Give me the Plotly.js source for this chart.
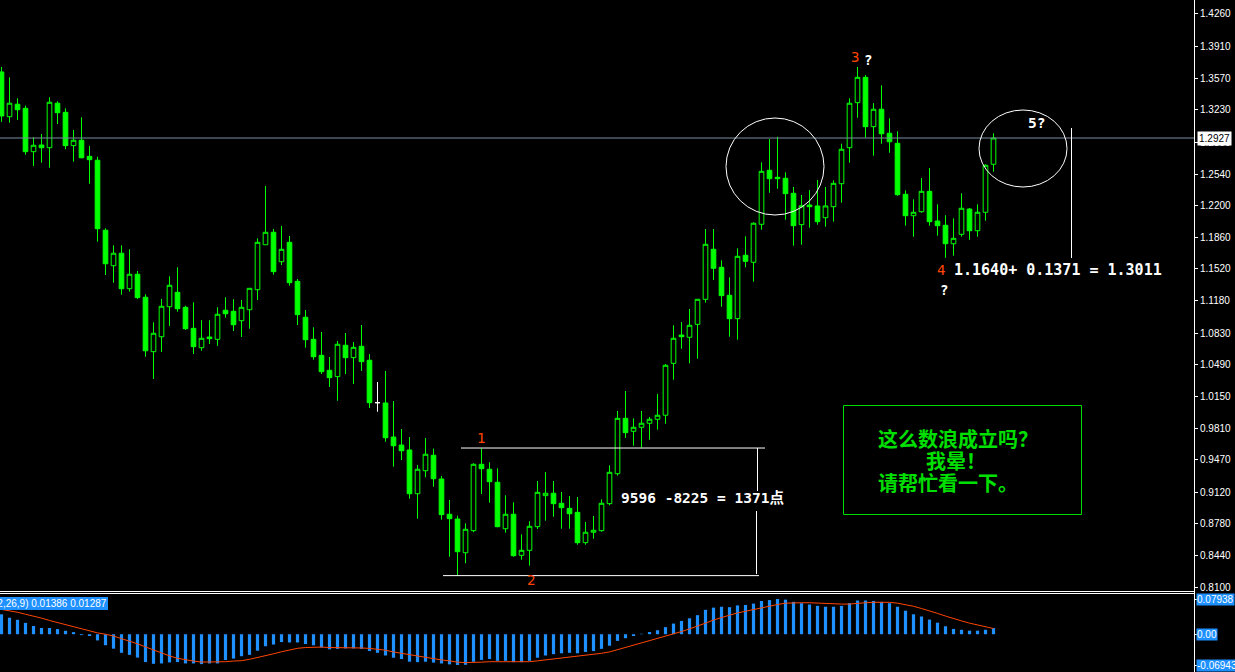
<!DOCTYPE html>
<html><head><meta charset="utf-8">
<script src="https://cdn.plot.ly/plotly-3.0.1.min.js"></script>
<style>html,body{margin:0;padding:0;background:#000;overflow:hidden}#chart{width:1235px;height:672px}</style>
</head><body><div id="chart"></div>
<script>
// ---- candle data (one bar per period, left to right) ----
const opens = [1.3637,1.3156,1.3290,1.3246,1.2780,1.2852,1.2823,1.3301,1.3203,1.2845,1.2903,1.2730,1.2688,1.1936,1.1555,1.1689,1.1308,1.1463,1.1216,1.0631,1.0792,1.1114,1.1269,1.1108,1.0882,1.0674,1.0789,1.0764,1.1076,1.1065,1.0964,1.1082,1.1297,1.1780,1.1914,1.1598,1.1806,1.1387,1.1001,1.0764,1.0592,1.0431,1.0363,1.0700,1.0567,1.0689,1.0539,1.0083,1.0080,0.9714,0.9628,0.9575,0.9105,0.9352,0.9518,0.9263,0.8884,0.8833,0.8471,0.8708,0.9421,0.9368,0.9228,0.8729,0.8884,0.8443,0.8497,0.8751,0.9084,0.9110,0.9002,0.8948,0.8905,0.8579,0.8691,0.8708,0.8998,0.9320,0.9915,0.9776,0.9819,0.9862,0.9905,0.9948,1.0506,1.0810,1.0786,1.0925,1.1194,1.1731,1.1538,1.1237,1.0986,1.1667,1.1592,1.2000,1.2580,1.2505,1.2494,1.2333,1.1996,1.2207,1.2197,1.2071,1.2189,1.2436,1.2823,1.3307,1.3579,1.3049,1.3236,1.2978,1.2870,1.2322,1.2092,1.2135,1.2354,1.2035,1.1989,1.1791,1.1892,1.2164,1.1931,1.2129,1.2645];
const highs = [1.3690,1.3579,1.3354,1.3275,1.2935,1.2970,1.3365,1.3322,1.3246,1.3013,1.3150,1.2842,1.2726,1.1957,1.1774,1.1774,1.1731,1.1498,1.1248,1.0947,1.1198,1.1441,1.1538,1.1125,1.1162,1.0969,1.0969,1.1108,1.1216,1.1195,1.1187,1.1312,1.1849,1.2411,1.1950,1.1982,1.1874,1.1412,1.1079,1.0893,1.0843,1.0574,1.0746,1.0832,1.0735,1.0918,1.0606,1.0305,1.0424,1.0101,0.9800,0.9714,0.9414,0.9704,0.9590,0.9295,0.9038,0.8869,0.8787,0.9432,0.9596,0.9443,0.9378,0.9088,0.9013,0.8669,0.8809,0.9242,0.9338,0.9242,0.9124,0.9081,0.9070,0.8801,0.8866,0.9045,0.9410,0.9994,1.0209,0.9915,0.9994,0.9929,1.0177,1.0499,1.0915,1.0950,1.1090,1.1194,1.1949,1.1949,1.1613,1.1430,1.1742,1.1871,1.2021,1.2666,1.2916,1.2941,1.2559,1.2401,1.2315,1.2368,1.2476,1.2401,1.2473,1.2866,1.3354,1.3690,1.3604,1.3301,1.3493,1.3139,1.2999,1.2365,1.2268,1.2497,1.2605,1.2215,1.2097,1.2064,1.2333,1.2175,1.2215,1.2645,1.2978];
const lows = [1.3100,1.3092,1.3121,1.2747,1.2627,1.2662,1.2608,1.3078,1.2806,1.2673,1.2710,1.2436,1.1813,1.1455,1.1372,1.1243,1.1276,1.1198,1.0577,1.0338,1.0628,1.0908,1.1061,1.0864,1.0606,1.0641,1.0714,1.0693,1.0997,1.0853,1.0789,1.0878,1.1187,1.1780,1.1458,1.1562,1.1340,1.0918,1.0674,1.0545,1.0391,1.0252,1.0104,1.0391,1.0284,1.0424,1.0026,0.9986,0.9664,0.9396,0.9467,0.9052,0.8837,0.9281,0.9180,0.8826,0.8428,0.8225,0.8358,0.8691,0.9102,0.9009,0.8744,0.8686,0.8428,0.8396,0.8332,0.8726,0.8815,0.8858,0.8729,0.8729,0.8557,0.8557,0.8622,0.8697,0.8981,0.9299,0.9704,0.9621,0.9593,0.9685,0.9793,0.9857,1.0330,1.0663,1.0506,1.0556,1.1158,1.1401,1.1114,1.0792,1.0760,1.1538,1.1383,1.1942,1.2339,1.2382,1.2049,1.1770,1.1781,1.1963,1.1996,1.1974,1.2028,1.2232,1.2662,1.3145,1.2930,1.2737,1.2866,1.2769,1.2307,1.1985,1.1867,1.2125,1.1985,1.1877,1.1640,1.1663,1.1867,1.1834,1.1867,1.2039,1.2565];
const closes = [1.3164,1.3301,1.3231,1.2780,1.2849,1.2823,1.3311,1.3199,1.2845,1.2903,1.2715,1.2694,1.1953,1.1576,1.1689,1.1308,1.1463,1.1212,1.0641,1.0829,1.1119,1.1345,1.1093,1.0878,1.0685,1.0775,1.0771,1.1033,1.1039,1.0921,1.1108,1.1312,1.1806,1.1914,1.1491,1.1731,1.1372,1.1029,1.0760,1.0577,1.0416,1.0352,1.0711,1.0567,1.0678,1.0524,1.0083,1.0083,0.9707,0.9621,0.9567,0.9105,0.9368,0.9529,0.9266,0.8880,0.8837,0.8482,0.8723,0.9421,0.9374,0.9234,0.8751,0.8884,0.8439,0.8497,0.8755,0.9120,0.9110,0.8998,0.8955,0.8890,0.8579,0.8691,0.8712,0.9002,0.9335,0.9915,0.9761,0.9819,0.9862,0.9905,0.9948,1.0485,1.0775,1.0792,1.0915,1.1194,1.1785,1.1527,1.1233,1.0986,1.1656,1.1602,1.2011,1.2569,1.2490,1.2490,1.2329,1.1985,1.2200,1.2189,1.2028,1.2197,1.2440,1.2806,1.3301,1.3579,1.3049,1.3236,1.2973,1.2887,1.2318,1.2092,1.2129,1.2354,1.2028,1.1985,1.1791,1.1849,1.2172,1.1931,1.2129,1.2634,1.2927];

// ---- MACD(12,26,9) panel ----
const macdMain = [0.0449,0.0372,0.0326,0.0256,0.0186,0.0140,0.0140,0.0116,0.0078,0.0047,-0.0020,-0.0040,-0.0140,-0.0248,-0.0326,-0.0419,-0.0465,-0.0527,-0.0628,-0.0667,-0.0659,-0.0636,-0.0628,-0.0659,-0.0659,-0.0674,-0.0659,-0.0659,-0.0581,-0.0550,-0.0496,-0.0465,-0.0372,-0.0271,-0.0233,-0.0178,-0.0186,-0.0186,
 -0.022,-0.025,-0.030,-0.034,-0.033,-0.032,-0.032,-0.033,-0.038,-0.042,-0.048,-0.053,-0.056,-0.062,-0.063,-0.062,-0.064,-0.066,-0.068,-0.0694,-0.069,-0.062,-0.058,-0.056,-0.060,-0.060,-0.063,-0.063,-0.060,-0.053,-0.048,-0.045,-0.043,-0.042,-0.043,-0.040,-0.038,-0.033,-0.026,-0.015,-0.009,-0.004,0.001,0.005,0.009,0.016,0.024,0.030,0.036,0.043,0.055,0.060,0.062,0.061,0.065,0.066,0.069,0.075,0.077,0.0794,0.078,0.073,0.070,0.067,0.064,0.062,0.062,0.064,0.070,0.076,0.076,0.075,0.073,0.070,0.062,0.053,0.045,0.040,0.033,0.026,0.018,0.012,0.010,0.008,0.008,0.010,0.01386];
const macdSignal = [0.0558,0.0535,0.0496,0.0450,0.0410,0.0364,0.0310,0.0264,0.0209,0.0163,0.0116,0.0070,0.0030,0.0000,-0.0040,-0.0100,-0.0155,-0.0217,-0.0287,-0.0357,-0.0434,-0.0488,-0.0543,-0.0581,-0.0605,-0.0628,-0.0628,-0.0628,-0.0620,-0.0605,-0.0597,-0.0566,-0.0527,-0.0496,-0.0442,-0.0395,-0.0349,-0.0318,
 -0.030,-0.029,-0.029,-0.030,-0.030,-0.031,-0.031,-0.031,-0.032,-0.034,-0.036,-0.040,-0.043,-0.047,-0.050,-0.053,-0.055,-0.058,-0.060,-0.063,-0.064,-0.064,-0.063,-0.062,-0.062,-0.061,-0.062,-0.062,-0.062,-0.060,-0.058,-0.056,-0.053,-0.051,-0.050,-0.048,-0.046,-0.043,-0.040,-0.035,-0.030,-0.025,-0.020,-0.015,-0.010,-0.005,0.000,0.006,0.012,0.018,0.025,0.032,0.038,0.043,0.048,0.052,0.056,0.060,0.064,0.067,0.070,0.071,0.071,0.071,0.070,0.069,0.068,0.068,0.068,0.070,0.071,0.072,0.072,0.072,0.070,0.067,0.063,0.058,0.053,0.047,0.041,0.035,0.030,0.025,0.021,0.017,0.01287];
const macdLabel = 'MACD(12,26,9) 0.01386 0.01287';
const macdMaxLabel = '0.07938', macdZeroLabel = '0.00', macdMinLabel = '-0.06943';
const macdMax = 0.07938, macdMin = -0.06943;

// ---- price axis ticks ----
const priceTickText = ['1.4260','1.3910','1.3570','1.3230','1.2880','1.2540','1.2200','1.1860','1.1520','1.1180','1.0830','1.0490','1.0150','0.9810','0.9470','0.9120','0.8780','0.8440','0.8100'];
const priceTicks = priceTickText.map(Number);
const lastPrice = 1.2927;
const dojiBars = [47];

// ---- wave annotations ----
const wave1 = 0.9596, wave2 = 0.8225;
const waveText = '9596 -8225 = 1371点';
const projText = '1.1640+ 0.1371 = 1.3011';
const noteLines = ['这么数浪成立吗？', '我晕！', '请帮忙看一下。'];

// ---------------------------------------------------------
const W = 1235, H = 672, PW = 1194;
const px = v => v / PW;          // pixel -> paper x
const py = v => 1 - v / H;       // pixel -> paper y
const GREEN = '#00ff00', RED = '#ff4500', BLUE = '#1e90ff';

const idx = opens.map((_, i) => i);
const normal = idx.filter(i => !dojiBars.includes(i));
const pick = (arr, ids) => ids.map(i => arr[i]);

const traces = [
  {type: 'candlestick', x: pick(idx, normal), open: pick(opens, normal), high: pick(highs, normal),
   low: pick(lows, normal), close: pick(closes, normal), whiskerwidth: 0,
   increasing: {line: {color: GREEN, width: 1}, fillcolor: '#000000'},
   decreasing: {line: {color: GREEN, width: 1}, fillcolor: GREEN},
   hoverinfo: 'skip', showlegend: false},
  {type: 'candlestick', x: dojiBars, open: pick(opens, dojiBars), high: pick(highs, dojiBars),
   low: pick(lows, dojiBars), close: pick(closes, dojiBars), whiskerwidth: 0,
   increasing: {line: {color: '#ffffff', width: 1}, fillcolor: '#ffffff'},
   decreasing: {line: {color: '#ffffff', width: 1}, fillcolor: '#ffffff'},
   hoverinfo: 'skip', showlegend: false},
  {type: 'bar', x: idx, y: macdMain, yaxis: 'y2', width: 0.4,
   marker: {color: BLUE, line: {width: 0}}, hoverinfo: 'skip', showlegend: false},
  {type: 'scatter', mode: 'lines', x: idx, y: macdSignal, yaxis: 'y2',
   line: {color: RED, width: 1}, hoverinfo: 'skip', showlegend: false}
];

const white = {color: '#ffffff', width: 1};
const shapes = [
  {type: 'line', xref: 'paper', yref: 'y', x0: 0, x1: 1, y0: lastPrice, y1: lastPrice, line: {color: '#7d8ea0', width: 1}},
  {type: 'line', xref: 'paper', yref: 'y', x0: px(461), x1: px(765), y0: wave1, y1: wave1, line: white},
  {type: 'line', xref: 'paper', yref: 'y', x0: px(443), x1: px(759), y0: wave2, y1: wave2, line: white},
  {type: 'line', xref: 'paper', yref: 'paper', x0: px(757.5), x1: px(757.5), y0: py(448), y1: py(491), line: white},
  {type: 'line', xref: 'paper', yref: 'paper', x0: px(756.5), x1: px(756.5), y0: py(511), y1: py(574), line: white},
  {type: 'line', xref: 'paper', yref: 'paper', x0: px(1071.5), x1: px(1071.5), y0: py(128), y1: py(258), line: white},
  {type: 'circle', xref: 'paper', yref: 'paper', x0: px(726), x1: px(824), y0: py(118), y1: py(215), line: white},
  {type: 'circle', xref: 'paper', yref: 'paper', x0: px(979), x1: px(1067), y0: py(110), y1: py(187), line: white},
  {type: 'rect', xref: 'paper', yref: 'paper', x0: px(843.5), x1: px(1081.5), y0: py(405.5), y1: py(514.5), line: {color: '#00e000', width: 1}},
  {type: 'line', xref: 'paper', yref: 'paper', x0: 0, x1: 1, y0: py(591.5), y1: py(591.5), line: white},
  {type: 'line', xref: 'paper', yref: 'paper', x0: 0, x1: 1, y0: py(593.5), y1: py(593.5), line: white},
  {type: 'line', xref: 'paper', yref: 'paper', x0: px(1194.5), x1: px(1194.5), y0: 0, y1: 1, line: white}
];

const mono = 'DejaVu Sans Mono, Noto Sans CJK SC, monospace';
const cjk = 'Noto Sans CJK SC, sans-serif';
const ann = (text, x, y, color, size, family, extra) => Object.assign({
  text, xref: 'paper', yref: 'paper', x: px(x), y: py(y), xanchor: 'left', yanchor: 'middle',
  showarrow: false, font: {color, size, family}, borderpad: 0, borderwidth: 0
}, extra || {});

const annotations = [
  ann('1', 477, 438, RED, 14, mono),
  ann('2', 527, 580, RED, 14, mono),
  ann('3', 851, 57, RED, 14, mono),
  ann('<b>?</b>', 864, 60, '#ffffff', 14, mono),
  ann('4', 937, 270, RED, 14, mono),
  ann('<b>' + projText + '</b>', 954, 270, '#ffffff', 15, mono),
  ann('<b>?</b>', 940, 290, '#ffffff', 14, mono),
  ann('<b>5?</b>', 1028, 123, '#ffffff', 14.5, mono),
  ann('<b>' + waveText + '</b>', 621, 497, '#ffffff', 14.5, mono),
  ann('<b>' + noteLines[0] + '</b>', 878, 438, '#00e000', 20, cjk),
  ann('<b>' + noteLines[1] + '</b>', 926, 460, '#00e000', 20, cjk),
  ann('<b>' + noteLines[2] + '</b>', 878, 482, '#00e000', 20, cjk),
  ann(macdLabel, 108, 603, '#ffffff', 10, 'Liberation Sans, Arial, sans-serif', {xanchor: 'right', bgcolor: BLUE, borderpad: 1}),
  {text: lastPrice.toFixed(4), xref: 'paper', yref: 'y', x: px(1197), y: lastPrice, xanchor: 'left', yanchor: 'middle',
   showarrow: false, bgcolor: '#ffffff', font: {color: '#000000', size: 10, family: 'Liberation Sans, Arial, sans-serif'}, borderpad: 1},
  {text: macdMaxLabel, xref: 'paper', yref: 'y2', x: px(1196), y: macdMax, xanchor: 'left', yanchor: 'middle',
   showarrow: false, bgcolor: BLUE, font: {color: '#ffffff', size: 10, family: 'Liberation Sans, Arial, sans-serif'}, borderpad: 0},
  {text: macdZeroLabel, xref: 'paper', yref: 'y2', x: px(1196), y: 0, xanchor: 'left', yanchor: 'middle',
   showarrow: false, bgcolor: BLUE, font: {color: '#ffffff', size: 10, family: 'Liberation Sans, Arial, sans-serif'}, borderpad: 0},
  {text: macdMinLabel, xref: 'paper', yref: 'y2', x: px(1196), y: macdMin, xanchor: 'left', yanchor: 'middle',
   showarrow: false, bgcolor: BLUE, font: {color: '#ffffff', size: 10, family: 'Liberation Sans, Arial, sans-serif'}, borderpad: 0}
];

const layout = {
  width: W, height: H,
  margin: {l: 0, r: W - PW, t: 0, b: 0, pad: 0},
  paper_bgcolor: '#000000', plot_bgcolor: '#000000',
  showlegend: false, hovermode: false, dragmode: false,
  boxgap: 0.42, boxgroupgap: 0,
  xaxis: {range: [-0.1875, (PW - 1.5) / 8], visible: false, showgrid: false, zeroline: false,
          rangeslider: {visible: false}, fixedrange: true},
  yaxis: {domain: [(H - 590) / H, 1], range: [0.80704, 1.4410], side: 'right', anchor: 'x',
          tickvals: priceTicks, ticktext: priceTickText, ticks: 'outside', ticklen: 3, tickcolor: '#ffffff',
          tickfont: {color: '#ffffff', size: 10, family: 'Liberation Sans, Arial, sans-serif'},
          showgrid: false, zeroline: false, showline: false, fixedrange: true},
  yaxis2: {domain: [0, 76 / H], range: [-0.0852, 0.0862], side: 'right', anchor: 'x',
           tickvals: [macdMax, 0, macdMin], ticks: 'outside', ticklen: 3, tickcolor: '#ffffff',
           showticklabels: false, showgrid: false, zeroline: false, showline: false, fixedrange: true},
  shapes, annotations
};

Plotly.newPlot('chart', traces, layout, {displayModeBar: false, staticPlot: true});
</script></body></html>
